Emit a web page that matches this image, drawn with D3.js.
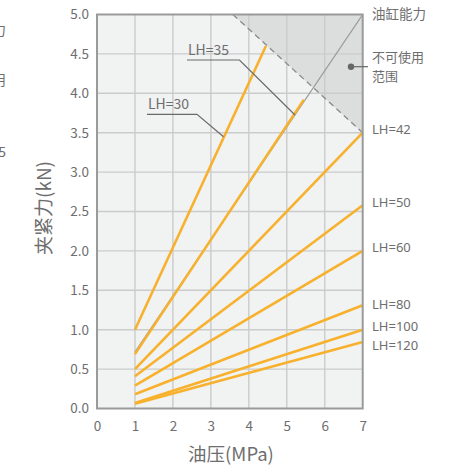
<!DOCTYPE html>
<html>
<head>
<meta charset="utf-8">
<script src="https://cdn.jsdelivr.net/npm/d3@7"></script>
<style>
  body { margin: 0; background: #fff; }
  text { font-family: "Noto Sans CJK SC", "Noto Sans", sans-serif; fill: #6e6e6e; }
</style>
</head>
<body>
<div id="chart"></div>
<script>
// data
var lhNames = ["LH=30", "LH=35", "LH=42", "LH=50", "LH=60", "LH=80", "LH=100", "LH=120"];
var startP = [1, 1, 1, 1, 1, 1, 1, 1];
var startF = [1.0, 0.69, 0.5, 0.41, 0.29, 0.18, 0.07, 0.06];
var endP = [4.45, 5.45, 7, 7, 7, 7, 7, 7];
var endF = [4.6, 3.92, 3.5, 2.58, 2.0, 1.31, 1.0, 0.845];

var capacityLine = [[1, 0.714], [7, 5]];       // 油缸能力
var limitLine = [[3.58, 5], [7, 3.5]];          // 不可使用范围 border

var xTicks = [0, 1, 2, 3, 4, 5, 6, 7];
var yTicks = [0, 0.5, 1, 1.5, 2, 2.5, 3, 3.5, 4, 4.5, 5];

var svgWidth = 452, svgHeight = 473;
var svg = d3.select("#chart").append("svg")
  .attr("width", svgWidth)
  .attr("height", svgHeight);

var x = d3.scaleLinear().domain([0, 7]).range([97, 362.7]);
var y = d3.scaleLinear().domain([0, 5]).range([408.5, 14.5]);

// plot background
svg.append("rect")
  .attr("x", x(0)).attr("y", y(5))
  .attr("width", x(7) - x(0)).attr("height", y(0) - y(5))
  .attr("fill", "#f1f2f2");

// unusable area
svg.append("path")
  .attr("d", d3.line()([[x(limitLine[0][0]), y(5)], [x(7), y(5)], [x(7), y(limitLine[1][1])]]) + "Z")
  .attr("fill", "#dcdddd");

// grid
svg.append("g").selectAll("line")
  .data(xTicks.slice(1, -1)).enter().append("line")
  .attr("x1", d => x(d)).attr("x2", d => x(d))
  .attr("y1", y(0)).attr("y2", y(5))
  .attr("stroke", "#cbcbcb").attr("stroke-width", 1.4);
svg.append("g").selectAll("line")
  .data(yTicks.slice(1, -1)).enter().append("line")
  .attr("x1", x(0)).attr("x2", x(7))
  .attr("y1", d => y(d)).attr("y2", d => y(d))
  .attr("stroke", "#cbcbcb").attr("stroke-width", 1.4);

var line = d3.line().x(d => x(d[0])).y(d => y(d[1]));

// dashed border
svg.append("path")
  .attr("d", line(limitLine))
  .attr("stroke", "#8a8a8a").attr("stroke-width", 1.3)
  .attr("stroke-dasharray", "6,4").attr("fill", "none");

// cylinder capacity line
svg.append("path")
  .attr("d", line(capacityLine))
  .attr("stroke", "#9a9a9a").attr("stroke-width", 1.3).attr("fill", "none");

// LH lines
svg.append("g").selectAll("path")
  .data(lhNames).enter().append("path")
  .attr("d", (d, i) => line([[startP[i], startF[i]], [endP[i], endF[i]]]))
  .attr("stroke", "#f7b12c").attr("stroke-width", 2.6)
  .attr("fill", "none");

// frame
svg.append("rect")
  .attr("x", x(0)).attr("y", y(5))
  .attr("width", x(7) - x(0)).attr("height", y(0) - y(5))
  .attr("fill", "none").attr("stroke", "#9a9a9a").attr("stroke-width", 2);

// axes
var xAxis = svg.append("g")
  .attr("transform", `translate(0, ${y(0)})`)
  .call(d3.axisBottom(x).tickValues(xTicks).tickSize(0).tickPadding(13).tickFormat(d3.format("d")));
var yAxis = svg.append("g")
  .attr("transform", `translate(${x(0)}, 0)`)
  .call(d3.axisLeft(y).tickValues(yTicks).tickSize(0).tickPadding(8).tickFormat(d3.format(".1f")));
[xAxis, yAxis].forEach(function(a) {
  a.select(".domain").remove();
  a.selectAll("text").style("font-size", "13.5px").attr("fill", "#6e6e6e")
    .style("font-family", "'Noto Sans CJK SC', sans-serif");
});

// axis titles
svg.append("text")
  .attr("x", 231).attr("y", 461)
  .attr("text-anchor", "middle")
  .style("font-size", "18.5px")
  .text("油压(MPa)");
svg.append("text")
  .attr("transform", "translate(51, 208) rotate(-90)")
  .attr("text-anchor", "middle")
  .style("font-size", "19px")
  .text("夹紧力(kN)");

// leader labels for LH=35 and LH=30
var leaders = [
  { name: lhNames[1], tx: 188, ty: 55, pts: [[187, 60], [239.5, 60], [295, 115]] },
  { name: lhNames[0], tx: 148, ty: 109, pts: [[147, 114.3], [197, 114.3], [223.5, 136.7]] }
];
leaders.forEach(function(l) {
  svg.append("text").attr("x", l.tx).attr("y", l.ty)
    .style("font-size", "14px").text(l.name);
  svg.append("path").attr("d", d3.line()(l.pts))
    .attr("stroke", "#6a6a6a").attr("stroke-width", 1.2).attr("fill", "none");
});

// right side labels
var rightLabels = [
  ["油缸能力", 19, 13.5], ["不可使用", 62, 13], ["范围", 81, 13]
];
rightLabels.forEach(function(r) {
  svg.append("text").attr("x", 372).attr("y", r[1])
    .style("font-size", r[2] + "px").text(r[0]);
});
var lhLabelY = [null, null, 129, 202, 247, 304, 326, 345];
lhNames.forEach(function(n, i) {
  if (lhLabelY[i] === null) return;
  svg.append("text").attr("x", 372).attr("y", lhLabelY[i])
    .attr("dy", "0.35em")
    .style("font-family", "'Noto Sans', sans-serif")
    .style("font-size", "13px").text(n);
});

// marker dot for the unusable area
svg.append("line")
  .attr("x1", 351).attr("x2", 368).attr("y1", 66.7).attr("y2", 66.7)
  .attr("stroke", "#666").attr("stroke-width", 1.2);
svg.append("circle")
  .attr("cx", 351).attr("cy", 66.7).attr("r", 3.2).attr("fill", "#666");

// fragments of the neighbouring chart cut at the left edge
[["力", 35], ["用", 85], ["5", 157]].forEach(function(f) {
  svg.append("text").attr("x", 6).attr("y", f[1])
    .attr("text-anchor", "end")
    .style("font-size", "14px").text(f[0]);
});
</script>
</body>
</html>
